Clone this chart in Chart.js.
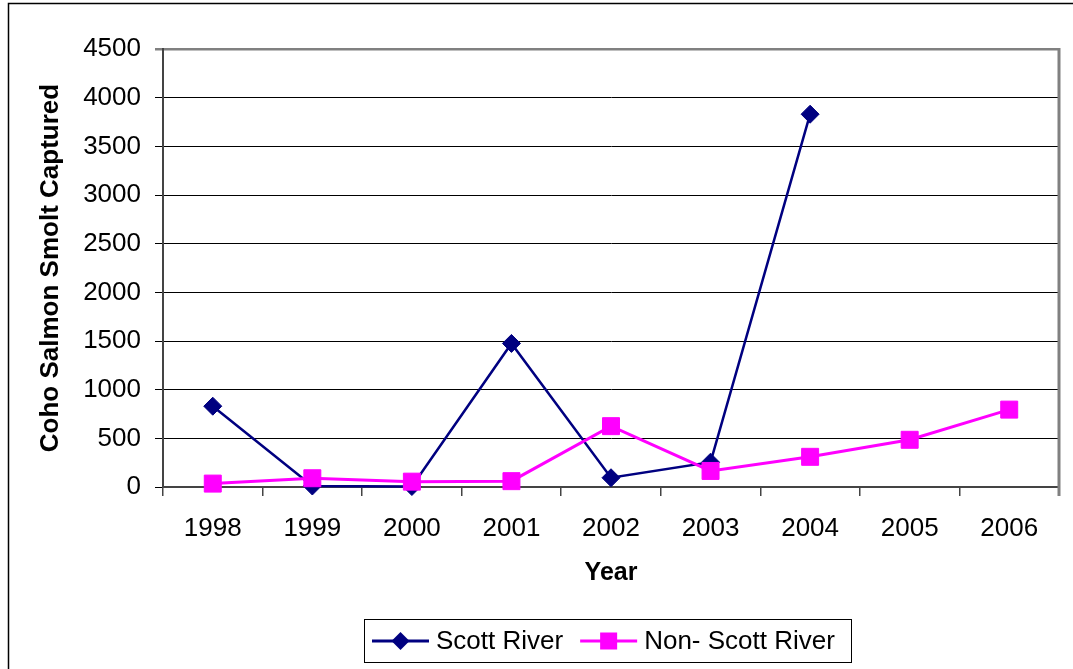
<!DOCTYPE html>
<html><head><meta charset="utf-8">
<script src="https://cdn.jsdelivr.net/npm/chart.js@4/dist/chart.umd.min.js"></script>
<style>html,body{margin:0;padding:0;background:#fff}canvas{display:block}</style>
</head><body>
<canvas id="c" width="1073" height="669"></canvas>
<script>
const years = ['1998','1999','2000','2001','2002','2003','2004','2005','2006'];
const scottRiver = [830, 10, 5, 1475, 95, 255, 3830, null, null];
const nonScottRiver = [35, 90, 55, 60, 625, 165, 310, 485, 795];
const seriesNames = ['Scott River', 'Non- Scott River'];
const yTitle = 'Coho Salmon Smolt Captured';
const xTitle = 'Year';
const yMin = 0, yMax = 4500, yStep = 500;

const FONT = 'Arial, "Liberation Sans", sans-serif';
const NAVY = '#000080', MAGENTA = '#FF00FF';

const framePlugin = {
  id: 'frame',
  beforeDraw(chart) {
    const ctx = chart.ctx;
    ctx.save();
    ctx.fillStyle = '#fff';
    ctx.fillRect(0, 0, chart.width, chart.height);
    ctx.strokeStyle = '#000';
    ctx.lineWidth = 1.5;
    ctx.beginPath();
    ctx.moveTo(8.5, chart.height);
    ctx.lineTo(8.5, 3.5);
    ctx.lineTo(chart.width, 3.5);
    ctx.stroke();
    ctx.restore();
  },
  afterDraw(chart) {
    const ctx = chart.ctx, a = chart.chartArea;
    ctx.save();
    ctx.strokeStyle = '#808080';
    ctx.lineWidth = 3;
    ctx.beginPath();
    ctx.moveTo(a.right, a.top - 1);
    ctx.lineTo(a.right, a.bottom + 9);
    ctx.stroke();
    // legend
    ctx.font = '26px ' + FONT;
    const w1 = ctx.measureText(seriesNames[0]).width;
    const w2 = ctx.measureText(seriesNames[1]).width;
    const padL = 8, sample = 57, tgap = 7, igap = 17, padR = 16;
    const boxW = Math.round(padL + sample + tgap + w1 + igap + sample + tgap + w2 + padR);
    const cx = 607, top = 619, h = 43;
    const left = Math.round(cx - boxW / 2);
    ctx.strokeStyle = '#000';
    ctx.lineWidth = 1;
    ctx.strokeRect(left + 0.5, top + 0.5, boxW, h);
    const ly = top + 22;
    let x = left + padL;
    ctx.strokeStyle = NAVY; ctx.lineWidth = 3;
    ctx.beginPath(); ctx.moveTo(x, ly); ctx.lineTo(x + sample, ly); ctx.stroke();
    ctx.fillStyle = NAVY;
    const mx1 = x + sample / 2;
    ctx.beginPath();
    ctx.moveTo(mx1, ly - 9); ctx.lineTo(mx1 + 9, ly); ctx.lineTo(mx1, ly + 9); ctx.lineTo(mx1 - 9, ly); ctx.closePath(); ctx.fill();
    x += sample + tgap;
    ctx.fillStyle = '#000'; ctx.textBaseline = 'middle'; ctx.textAlign = 'left';
    ctx.fillText(seriesNames[0], x, ly + 1);
    x += w1 + igap;
    ctx.strokeStyle = MAGENTA; ctx.lineWidth = 3;
    ctx.beginPath(); ctx.moveTo(x, ly); ctx.lineTo(x + sample, ly); ctx.stroke();
    ctx.fillStyle = MAGENTA;
    const mx2 = x + sample / 2;
    ctx.fillRect(mx2 - 8.5, ly - 8.5, 17, 17);
    x += sample + tgap;
    ctx.fillStyle = '#000';
    ctx.fillText(seriesNames[1], x, ly + 1);
    ctx.restore();
  }
};

new Chart(document.getElementById('c'), {
  type: 'line',
  data: {
    labels: years,
    datasets: [
      {
        label: seriesNames[0], data: scottRiver, order: 1,
        borderColor: NAVY, backgroundColor: NAVY, borderWidth: 2.5,
        pointStyle: 'rectRot', pointRadius: 9, pointBackgroundColor: NAVY, pointBorderColor: NAVY,
        pointBorderWidth: 1, tension: 0, spanGaps: false, clip: false
      },
      {
        label: seriesNames[1], data: nonScottRiver, order: 0,
        borderColor: MAGENTA, backgroundColor: MAGENTA, borderWidth: 3,
        pointStyle: 'rect', pointRadius: 12, pointBackgroundColor: MAGENTA, pointBorderColor: MAGENTA,
        pointBorderWidth: 1, tension: 0, clip: false
      }
    ]
  },
  options: {
    responsive: false,
    animation: false,
    devicePixelRatio: 1,
    layout: { padding: { left: 0, top: 49, right: 14, bottom: 0 } },
    plugins: { legend: { display: false }, tooltip: { enabled: false } },
    scales: {
      x: {
        offset: true,
        grid: { offset: true, drawOnChartArea: false, drawTicks: true, tickLength: 9, color: '#444', lineWidth: 1.5 },
        border: { display: true, color: '#444', width: 2 },
        ticks: { color: '#000', font: { family: FONT, size: 26 }, padding: 17, maxRotation: 0, autoSkip: false },
        title: { display: true, text: xTitle, color: '#000', font: { family: FONT, size: 25, weight: 'bold' }, padding: { top: 0, bottom: 81 } },
        afterFit(scale) { scale.height = 669 - 487; }
      },
      y: {
        min: yMin, max: yMax,
        grid: {
          color: (c) => (c.tick && c.tick.value === yMax) ? '#808080' : '#000',
          lineWidth: (c) => (c.tick && c.tick.value === yMax) ? 2.5 : 1,
          tickLength: 8, drawTicks: true
        },
        border: { display: true, color: '#444', width: 2 },
        ticks: { stepSize: yStep, color: '#000', font: { family: FONT, size: 26 }, padding: 14,
                 callback: (v) => String(v) },
        title: { display: true, text: yTitle, color: '#000', font: { family: FONT, size: 26, weight: 'bold' }, padding: { top: 35, bottom: 0 } },
        afterFit(scale) { scale.width = 163; }
      }
    }
  },
  plugins: [framePlugin]
});
</script>
</body></html>
